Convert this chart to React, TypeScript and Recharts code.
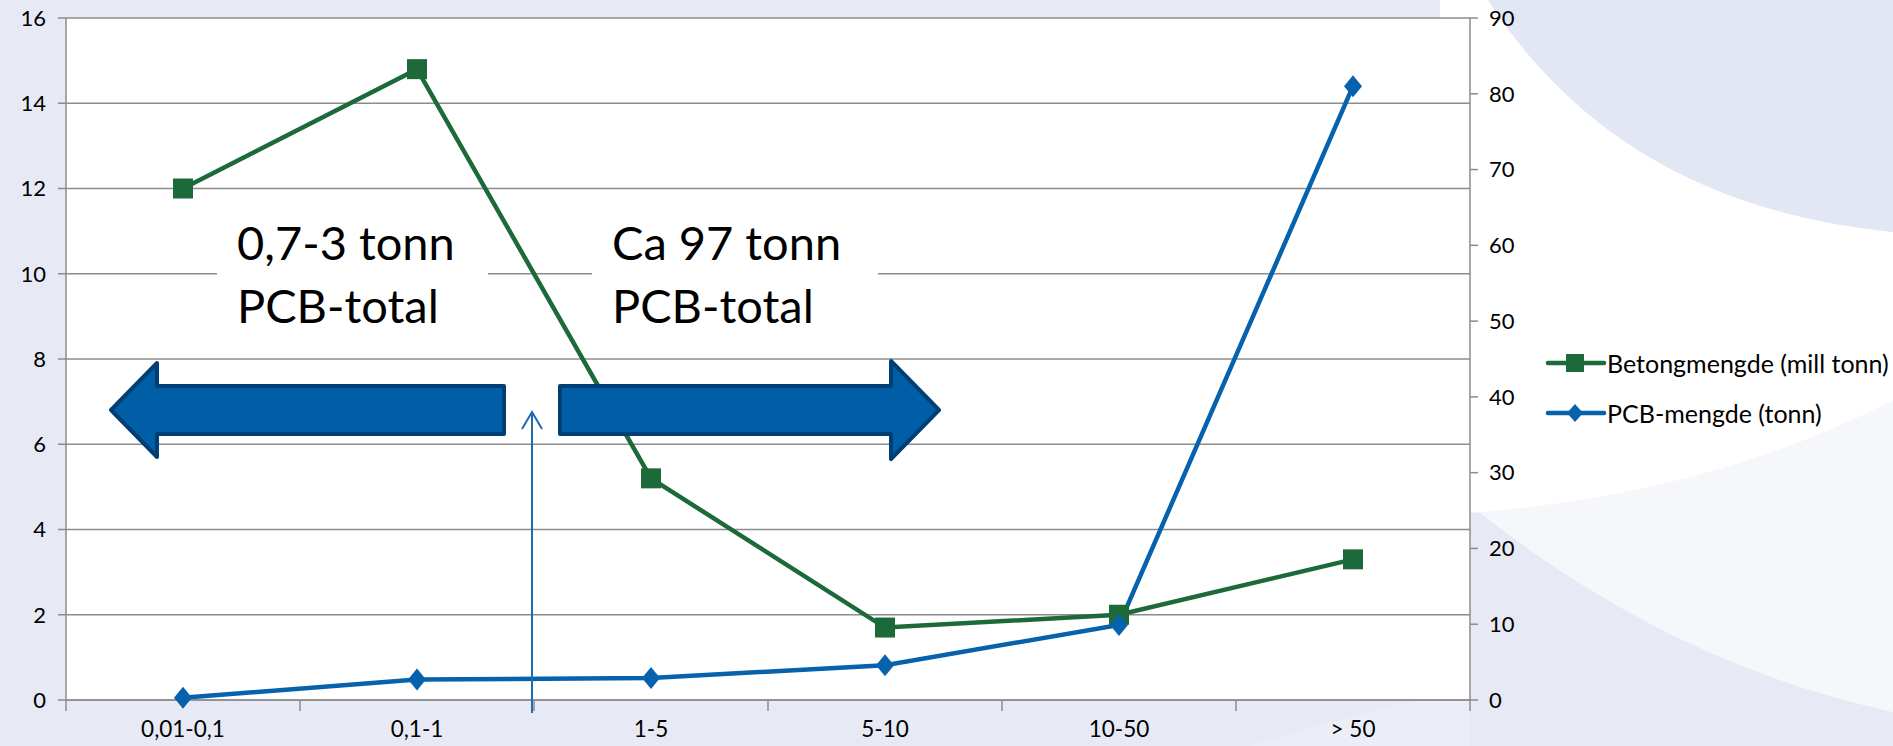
import { ComposedChart, Line, XAxis, YAxis, CartesianGrid } from 'recharts';

const categories = ['0,01-0,1', '0,1-1', '1-5', '5-10', '10-50', '> 50'];
const betongValues = [12, 14.8, 5.2, 1.7, 2.0, 3.3];
const pcbValues = [0.3, 2.7, 2.9, 4.6, 9.9, 81];
const leftTicks = [0, 2, 4, 6, 8, 10, 12, 14, 16];
const rightTicks = [0, 10, 20, 30, 40, 50, 60, 70, 80, 90];

const GREEN = '#1c6a3a';
const BLUE = '#0662ad';
const GRID = '#8c8c8c';
const FONT = 'Lato, "Open Sans", sans-serif';
const HALF_BAND = 117;

const data = categories.map((cat, i) => ({
  cat,
  betong: betongValues[i],
  pcb: pcbValues[i],
}));

const SquareDot = (props: any) => {
  const { cx, cy, index } = props;
  if (cx == null || cy == null) return null;
  return <rect key={`sq-${index}`} x={cx - 10} y={cy - 10} width={20} height={20} fill={GREEN} />;
};

const DiamondDot = (props: any) => {
  const { cx, cy, index } = props;
  if (cx == null || cy == null) return null;
  return (
    <polygon
      key={`dm-${index}`}
      points={`${cx},${cy - 11} ${cx + 9},${cy} ${cx},${cy + 11} ${cx - 9},${cy}`}
      fill={BLUE}
    />
  );
};

// category labels with tick marks on the band edges
const XTick = (props: any) => {
  const { x, y, payload, index } = props;
  const last = index === categories.length - 1;
  return (
    <g>
      <line x1={x - HALF_BAND} y1={y} x2={x - HALF_BAND} y2={y + 11} stroke={GRID} strokeWidth={1.5} />
      {last && <line x1={x + HALF_BAND} y1={y} x2={x + HALF_BAND} y2={y + 11} stroke={GRID} strokeWidth={1.5} />}
      <text x={x} y={y + 37} textAnchor="middle" fontSize={22.5} fontFamily={FONT} fill="#000">
        {payload.value}
      </text>
    </g>
  );
};

const LegendBox = () => (
  <div style={{ position: 'absolute', left: 1545, top: 347, fontFamily: FONT, fontSize: 25, color: '#000' }}>
    <div style={{ display: 'flex', alignItems: 'center', height: 32, marginBottom: 18 }}>
      <svg width={62} height={24}>
        <line x1={3} y1={12} x2={59} y2={12} stroke={GREEN} strokeWidth={4.5} strokeLinecap="round" />
        <rect x={21} y={3} width={18} height={18} fill={GREEN} />
      </svg>
      <span>Betongmengde (mill tonn)</span>
    </div>
    <div style={{ display: 'flex', alignItems: 'center', height: 32 }}>
      <svg width={62} height={24}>
        <line x1={3} y1={12} x2={59} y2={12} stroke={BLUE} strokeWidth={4.5} strokeLinecap="round" />
        <polygon points="30,3 38,12 30,21 22,12" fill={BLUE} />
      </svg>
      <span>PCB-mengde (tonn)</span>
    </div>
  </div>
);

const Background = () => (
  <svg width={1893} height={746} style={{ position: 'absolute', left: 0, top: 0 }}>
    <rect width={1893} height={746} fill="#e7eaf4" />
    {/* soft light swoosh on the right */}
    <path d="M1488,0 Q1620,205 1893,232 L1893,712 Q1650,660 1440,480 L1440,0 Z" fill="#f6f7fb" />
    <path d="M1488,0 Q1620,205 1893,232 L1893,400 Q1700,500 1440,515 L1440,0 Z" fill="#ffffff" />
    <path d="M1488,0 Q1620,205 1893,232 L1893,0 Z" fill="#e3e7f3" />
    <path d="M1250,746 Q1400,700 1470,690 L1470,746 Z" fill="#eceef7" />
  </svg>
);

const Annotations = () => (
  <svg width={1893} height={746} style={{ position: 'absolute', left: 0, top: 0, pointerEvents: 'none' }}>
    <rect x={217} y={205} width={271} height={145} fill="#fff" />
    <rect x={592} y={205} width={286} height={145} fill="#fff" />
    <g fontFamily={FONT} fontSize={47} fill="#000">
      <text x={237} y={260}>0,7-3 tonn</text>
      <text x={237} y={323}>PCB-total</text>
      <text x={612} y={260}>Ca 97 tonn</text>
      <text x={612} y={323}>PCB-total</text>
    </g>
    <polygon
      points="111,410 157,363 157,386 504,386 504,434 157,434 157,457"
      fill="#005ea6"
      stroke="#003f74"
      strokeWidth={4}
      strokeLinejoin="round"
    />
    <polygon
      points="560,386 891,386 891,361 939,410 891,459 891,434 560,434"
      fill="#005ea6"
      stroke="#003f74"
      strokeWidth={4}
      strokeLinejoin="round"
    />
    <line x1={532} y1={713} x2={532} y2={413} stroke="#1f6cb6" strokeWidth={2} />
    <polyline points="522,429 532,412 542,429" fill="none" stroke="#1f6cb6" strokeWidth={2} />
  </svg>
);

export default function App() {
  return (
    <div style={{ position: 'absolute', left: 0, top: 0, width: 1893, height: 746, overflow: 'hidden' }}>
      <Background />
      <div style={{ position: 'absolute', left: 0, top: 0 }}>
        <ComposedChart width={1893} height={746} data={data} margin={{ top: 18, right: 343, left: 0, bottom: 0 }}>
          <CartesianGrid yAxisId="left" vertical={false} stroke={GRID} strokeWidth={1.5} fill="#fff" />
          <XAxis
            dataKey="cat"
            height={46}
            padding={{ left: HALF_BAND, right: HALF_BAND }}
            tickLine={false}
            tickSize={0}
            tickMargin={0}
            interval={0}
            tick={<XTick />}
            axisLine={{ stroke: GRID, strokeWidth: 1.5 }}
          />
          <YAxis
            yAxisId="left"
            width={66}
            domain={[0, 16]}
            ticks={leftTicks}
            tickSize={8}
            tickMargin={12}
            tick={{ fontSize: 22, fontFamily: FONT, fill: '#000' }}
            axisLine={{ stroke: GRID, strokeWidth: 1.5 }}
            tickLine={{ stroke: GRID, strokeWidth: 1.5 }}
          />
          <YAxis
            yAxisId="right"
            orientation="right"
            width={80}
            domain={[0, 90]}
            ticks={rightTicks}
            tickSize={8}
            tickMargin={11}
            tick={{ fontSize: 22, fontFamily: FONT, fill: '#000', textAnchor: 'start' }}
            axisLine={{ stroke: GRID, strokeWidth: 1.5 }}
            tickLine={{ stroke: GRID, strokeWidth: 1.5 }}
          />
          <Line
            yAxisId="left"
            dataKey="betong"
            stroke={GREEN}
            strokeWidth={4.5}
            dot={<SquareDot />}
            activeDot={false}
            isAnimationActive={false}
          />
          <Line
            yAxisId="right"
            dataKey="pcb"
            stroke={BLUE}
            strokeWidth={4.5}
            dot={<DiamondDot />}
            activeDot={false}
            isAnimationActive={false}
          />
        </ComposedChart>
      </div>
      <Annotations />
      <LegendBox />
    </div>
  );
}
